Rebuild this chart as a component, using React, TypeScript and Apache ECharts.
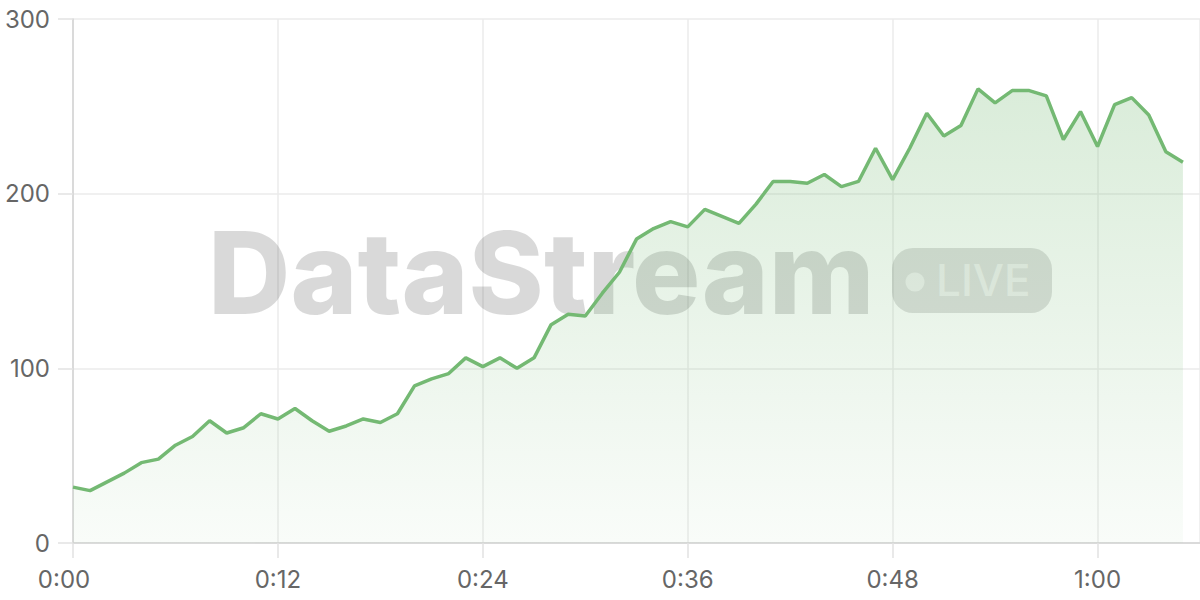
import React, { useEffect, useRef } from 'react';
import * as echarts from 'echarts';

// one reading per minute, starting at 0:00
const values = [
  32, 30, 35, 40, 46, 48, 56, 61, 70, 63, 66, 74, 71, 77, 70, 64, 67, 71, 69, 74,
  90, 94, 97, 106, 101, 106, 100, 106, 125, 131, 130, 143, 155, 174, 180, 184, 181, 191, 187, 183,
  194, 207, 207, 206, 211, 204, 207, 226, 208, 226, 246, 233, 239, 260, 252, 259, 259, 256, 231, 247,
  227, 251, 255, 245, 224, 218,
];
const yTicks = [0, 100, 200, 300];
const xTickStep = 12;
const xMax = 66;
const watermark = 'DataStream';
const badge = 'LIVE';

const FONT = 'Inter, "Noto Sans", sans-serif';
const LINE = '#74b973';

const fmtTime = (v: number) => {
  if (v % xTickStep !== 0) return '';
  const s = Math.floor(v / 60) + ':' + String(v % 60).padStart(2, '0');
  // first label sits a little left of its tick in the original
  return v === 0 ? '{first|' + s + '}' : s;
};

export default function App() {
  const ref = useRef<HTMLDivElement | null>(null);

  useEffect(() => {
    if (!ref.current) return;
    const chart = echarts.init(ref.current, null, { renderer: 'svg' });
    chart.setOption({
      animation: false,
      grid: { left: 73, right: 0, top: 19, bottom: 57 },
      xAxis: {
        type: 'value',
        min: 0,
        max: xMax,
        interval: xTickStep,
        axisLine: { lineStyle: { color: '#d3d3d3', width: 1.5 } },
        axisTick: { show: true, length: 15, lineStyle: { color: '#e2e2e2', width: 1.5 } },
        axisLabel: {
          color: '#666', fontSize: 24, fontFamily: FONT, margin: 24, formatter: fmtTime, showMaxLabel: false,
          rich: { first: { color: '#666', fontSize: 24, fontFamily: FONT, padding: [0, 18, 0, 0] } },
        },
        splitLine: { show: true, lineStyle: { color: '#ebebeb', width: 1.5 } },
      },
      yAxis: {
        type: 'value',
        min: yTicks[0],
        max: yTicks[yTicks.length - 1],
        interval: yTicks[1] - yTicks[0],
        axisLine: { show: true, lineStyle: { color: '#d3d3d3', width: 1.5 } },
        axisTick: { show: true, length: 15, lineStyle: { color: '#e2e2e2', width: 1.5 } },
        axisLabel: { color: '#666', fontSize: 24, fontFamily: FONT, margin: 23 },
        splitLine: { show: true, lineStyle: { color: '#ebebeb', width: 1.5 } },
      },
      graphic: [
        {
          type: 'text', z: 1, x: 208, y: 272,
          style: {
            text: watermark, fill: 'rgba(0,0,0,0.15)',
            font: `800 114px ${FONT}`, verticalAlign: 'middle', align: 'left',
          },
        },
        {
          type: 'rect', z: 1,
          shape: { x: 892, y: 248, width: 160, height: 65, r: 21 },
          style: { fill: 'rgba(0,0,0,0.13)' },
        },
        {
          type: 'circle', z: 1,
          shape: { cx: 915, cy: 282, r: 9.5 },
          style: { fill: 'rgba(255,255,255,0.55)' },
        },
        {
          type: 'text', z: 1, x: 936, y: 280,
          style: {
            text: badge, fill: 'rgba(255,255,255,0.55)',
            font: `500 44px ${FONT}`, verticalAlign: 'middle', align: 'left',
          },
        },
      ],
      series: [
        {
          type: 'line',
          data: values.map((v, i) => [i, v]),
          showSymbol: false,
          symbol: 'none',
          lineStyle: { color: LINE, width: 3.5 },
          areaStyle: {
            color: new echarts.graphic.LinearGradient(0, 0, 0, 1, [
              { offset: 0, color: 'rgba(116,185,115,0.38)' },
              { offset: 1, color: 'rgba(116,185,115,0.06)' },
            ]),
          },
          z: 2,
        },
      ],
    });
    return () => chart.dispose();
  }, []);

  return <div ref={ref} style={{ position: 'fixed', left: 0, top: 0, width: 1200, height: 600, background: '#fff' }} />;
}
